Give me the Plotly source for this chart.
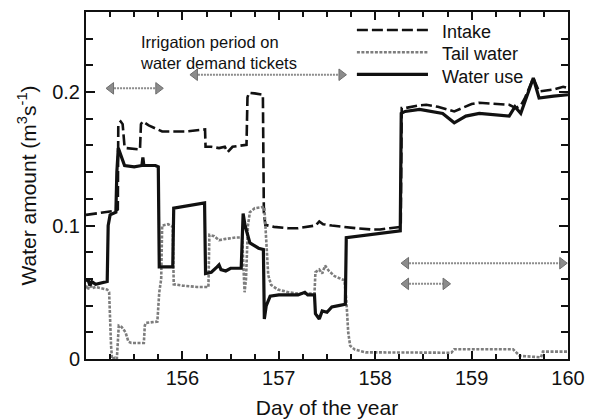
import plotly.graph_objects as go

# ---------------- data ----------------
intake_x = [155.00, 155.10, 155.22, 155.30, 155.33, 155.335, 155.36, 155.38, 155.40, 155.42,
            155.56, 155.57, 155.59, 155.65, 155.79, 156.04, 156.235, 156.24, 156.30, 156.38,
            156.44, 156.47, 156.52, 156.60, 156.665, 156.675, 156.69, 156.75, 156.835, 156.845,
            156.86, 156.95, 157.10, 157.20, 157.30, 157.38, 157.42, 157.46, 157.55, 157.65,
            157.80, 157.97, 158.05, 158.15, 158.265, 158.275, 158.31, 158.45, 158.53, 158.65,
            158.75, 158.82, 158.90, 159.00, 159.08, 159.30, 159.39, 159.46, 159.51, 159.55,
            159.64, 159.70, 159.75, 159.85, 159.95, 160.00]
intake_y = [0.108, 0.109, 0.110, 0.111, 0.112, 0.176, 0.178, 0.176, 0.159, 0.158,
            0.157, 0.176, 0.178, 0.175, 0.1705, 0.1705, 0.172, 0.159, 0.159, 0.158,
            0.159, 0.155, 0.159, 0.160, 0.1605, 0.196, 0.1995, 0.199, 0.198, 0.110,
            0.1005, 0.099, 0.098, 0.098, 0.099, 0.100, 0.103, 0.101, 0.100, 0.099,
            0.098, 0.097, 0.097, 0.098, 0.099, 0.188, 0.188, 0.190, 0.1905, 0.189,
            0.187, 0.1855, 0.188, 0.191, 0.192, 0.191, 0.1905, 0.188, 0.190, 0.195,
            0.2105, 0.2005, 0.201, 0.202, 0.204, 0.203]

tail_x = [155.00, 155.02, 155.04, 155.06, 155.10, 155.15, 155.22, 155.24, 155.25, 155.26,
          155.27, 155.30, 155.32, 155.33, 155.34, 155.37, 155.41, 155.44, 155.47, 155.60,
          155.61, 155.62, 155.74, 155.76, 155.78, 155.79, 155.85, 155.90, 155.91, 156.00,
          156.15, 156.27, 156.28, 156.33, 156.38, 156.45, 156.55, 156.62, 156.635, 156.645,
          156.66, 156.68, 156.70, 156.75, 156.85, 156.87, 156.89, 156.92, 156.99, 157.10,
          157.20, 157.37, 157.38, 157.42, 157.45, 157.48, 157.52, 157.58, 157.68, 157.70,
          157.72, 157.74, 157.79, 157.90, 158.25, 158.79, 158.82, 159.43, 159.50, 159.72,
          159.74, 160.00]
tail_y = [0.055, 0.052, 0.057, 0.053, 0.054, 0.053, 0.052, 0.050, 0.020, 0.010,
          0.000, 0.001, 0.000, 0.010, 0.025, 0.024, 0.020, 0.013, 0.012, 0.012,
          0.025, 0.027, 0.028, 0.050, 0.060, 0.100, 0.101, 0.099, 0.056, 0.055,
          0.054, 0.054, 0.093, 0.092, 0.089, 0.090, 0.091, 0.091, 0.060, 0.050,
          0.060, 0.100, 0.110, 0.113, 0.114, 0.083, 0.063, 0.0555, 0.052, 0.050,
          0.049, 0.049, 0.065, 0.067, 0.064, 0.070, 0.066, 0.062, 0.059, 0.045,
          0.020, 0.010, 0.007, 0.005, 0.0047, 0.0047, 0.0073, 0.0073, 0.0023, 0.0013,
          0.0055, 0.0055]

use_x = [155.00, 155.02, 155.04, 155.06, 155.10, 155.15, 155.22, 155.23, 155.25, 155.31,
         155.32, 155.335, 155.35, 155.38, 155.40, 155.50, 155.58, 155.59, 155.60, 155.72,
         155.75, 155.76, 155.90, 155.91, 156.00, 156.14, 156.23, 156.24, 156.30, 156.36,
         156.38, 156.40, 156.45, 156.50, 156.61, 156.63, 156.65, 156.70, 156.79, 156.84,
         156.85, 156.87, 156.91, 157.00, 157.20, 157.27, 157.30, 157.37, 157.38, 157.42,
         157.45, 157.50, 157.55, 157.62, 157.69, 157.70, 157.80, 157.95, 158.05, 158.15,
         158.26, 158.27, 158.31, 158.46, 158.70, 158.82, 158.94, 159.08, 159.39, 159.45,
         159.51, 159.64, 159.70, 159.85, 160.00]
use_y = [0.058, 0.060, 0.055, 0.058, 0.056, 0.057, 0.058, 0.100, 0.108, 0.110,
         0.140, 0.158, 0.155, 0.150, 0.145, 0.144, 0.145, 0.151, 0.145, 0.145,
         0.144, 0.069, 0.069, 0.113, 0.114, 0.116, 0.117, 0.064, 0.065, 0.069,
         0.0705, 0.067, 0.066, 0.068, 0.068, 0.109, 0.100, 0.087, 0.083, 0.082,
         0.030, 0.040, 0.047, 0.048, 0.048, 0.050, 0.048, 0.048, 0.034, 0.030,
         0.036, 0.035, 0.039, 0.040, 0.041, 0.091, 0.092, 0.093, 0.094, 0.095,
         0.096, 0.184, 0.1855, 0.187, 0.184, 0.177, 0.182, 0.184, 0.182, 0.189,
         0.184, 0.2105, 0.1955, 0.197, 0.198]

series_names = ["Intake", "Tail water", "Water use"]

# irrigation-period arrows (day start, day end, level)
arrow_x0 = [155.26, 156.13, 158.32, 158.32]
arrow_x1 = [155.75, 157.65, 159.94, 158.73]
arrow_y = [0.2028, 0.213, 0.0718, 0.0563]

x_tick_vals = [156, 157, 158, 159, 160]
x_tick_text = ["156", "157", "158", "159", "160"]

# ---------------- figure ----------------
FONT = "Liberation Sans, Arial, sans-serif"
styles = [
    dict(color="#111111", width=2.6, dash="11px,4px"),
    dict(color="#7d7d7d", width=2.6, dash="3px,1.5px"),
    dict(color="#111111", width=3.2),
]

fig = go.Figure()

# arrows as dotted gray lines with triangular heads
for x0, x1, yv in zip(arrow_x0, arrow_x1, arrow_y):
    fig.add_trace(go.Scatter(x=[x0, x1], y=[yv, yv], mode="lines+markers",
                             line=dict(color="#8c8c8c", width=2, dash="2px,1px"),
                             marker=dict(symbol=["triangle-left", "triangle-right"],
                                         size=10, color="#8c8c8c",
                                         line=dict(color="#6e6e6e", width=1)),
                             showlegend=False, hoverinfo="skip"))

for name, xs, ys, st in zip(series_names,
                            [intake_x, tail_x, use_x],
                            [intake_y, tail_y, use_y], styles):
    fig.add_trace(go.Scatter(x=xs, y=ys, mode="lines", name=name,
                             line=st, showlegend=False))

# manual legend (long line samples as in the original)
leg_line_y = [0.948, 0.884, 0.8205]
leg_text_y = [0.943, 0.878, 0.8135]
for name, st, ly, ty in zip(series_names, styles, leg_line_y, leg_text_y):
    fig.add_shape(type="line", xref="paper", yref="paper",
                  x0=0.562, x1=0.7095, y0=ly, y1=ly, line=st)
    fig.add_annotation(xref="paper", yref="paper", x=0.734, y=ty,
                       text=name, showarrow=False, xanchor="left", yanchor="middle",
                       font=dict(family=FONT, size=18, color="#111111"))

fig.add_annotation(xref="paper", yref="paper", x=0.108, y=0.882,
                   text="Irrigation period on<br>water demand tickets",
                   showarrow=False, xanchor="left", yanchor="middle", align="left",
                   font=dict(family=FONT, size=16.5, color="#111111"))

axis_common = dict(showline=True, linewidth=2, linecolor="#111111", mirror="ticks",
                   ticks="inside", tickwidth=1.5, tickcolor="#111111",
                   showgrid=False, zeroline=False, automargin=False,
                   tickfont=dict(family=FONT, size=20, color="#111111"))

fig.update_xaxes(range=[155, 160], tickmode="array", tickvals=x_tick_vals,
                 ticktext=x_tick_text, ticklen=8,
                 minor=dict(tickmode="linear", tick0=155, dtick=0.25, ticklen=5,
                            ticks="inside", tickwidth=1.5, tickcolor="#111111"),
                 title=dict(text="Day of the year", standoff=12,
                            font=dict(family=FONT, size=21, color="#111111")),
                 **axis_common)
fig.update_yaxes(range=[0, 0.26], tickmode="linear", tick0=0, dtick=0.1, ticklen=9,
                 minor=dict(tickmode="linear", tick0=0, dtick=0.02, ticklen=7,
                            ticks="inside", tickwidth=1.5, tickcolor="#111111"),
                 title=dict(text="Water amount (m<sup>3</sup>s<sup>-1</sup>)", standoff=10,
                            font=dict(family=FONT, size=21, color="#111111")),
                 **axis_common)

fig.update_layout(width=590, height=419, margin=dict(l=86, r=22, t=12, b=60),
                  plot_bgcolor="white", paper_bgcolor="white",
                  font=dict(family=FONT, color="#111111"))

fig.write_html("out.html", config={"displayModeBar": False},
               post_script="document.body.style.margin='0px';"
                           "document.body.style.overflow='hidden';")
